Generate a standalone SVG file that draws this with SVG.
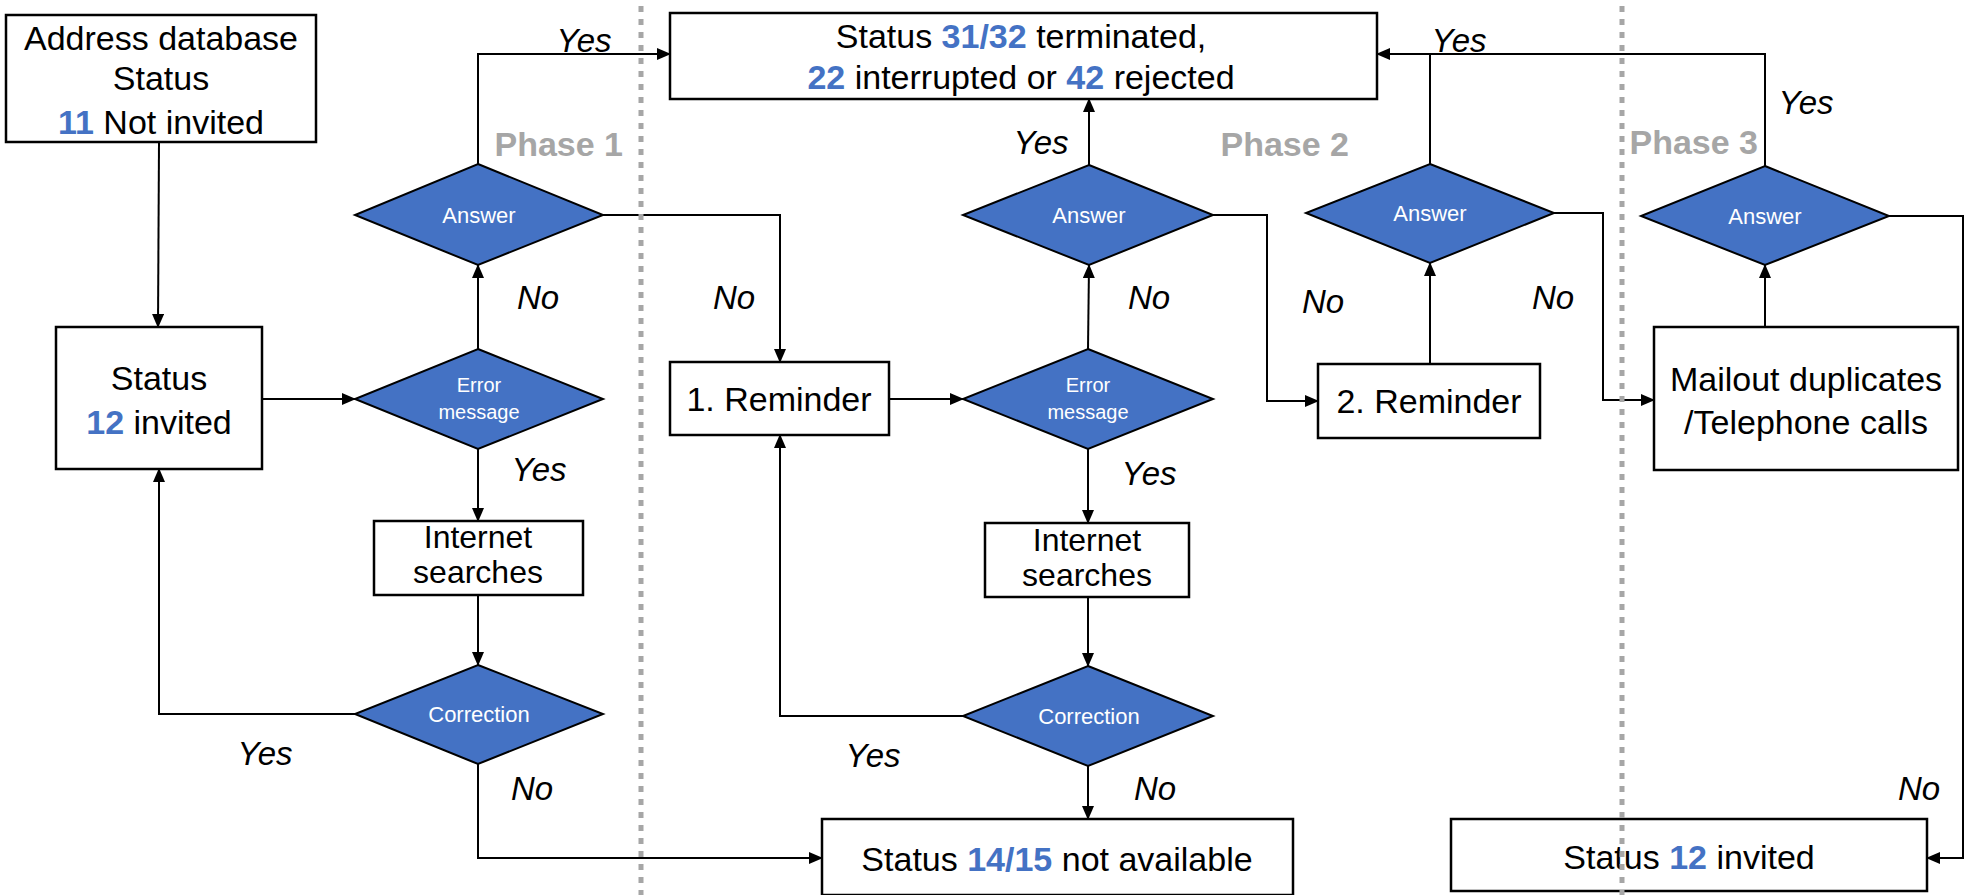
<svg xmlns="http://www.w3.org/2000/svg" width="1967" height="895" viewBox="0 0 1967 895">
<defs>
<marker id="arr" markerUnits="userSpaceOnUse" markerWidth="14" markerHeight="12" refX="13" refY="6" orient="auto">
<path d="M0,0 L14,6 L0,12 z" fill="#000"/>
</marker>
<style>
.box{fill:#fff;stroke:#000;stroke-width:2.5}
.dia{fill:#4472C4;stroke:#000;stroke-width:2}
.t{font-family:"Liberation Sans",Arial,sans-serif;font-size:34px;fill:#000;text-anchor:middle}
.ts{font-family:"Liberation Sans",Arial,sans-serif;font-size:32px;fill:#000;text-anchor:middle}
.n{font-weight:bold;fill:#4472C4}
.dt{font-family:"Liberation Sans",Arial,sans-serif;font-size:22px;fill:#fff;text-anchor:middle}
.dts{font-family:"Liberation Sans",Arial,sans-serif;font-size:20px;fill:#fff;text-anchor:middle}
.lb{font-family:"Liberation Sans",Arial,sans-serif;font-size:33px;font-style:italic;fill:#000;text-anchor:middle}
.ph{font-family:"Liberation Sans",Arial,sans-serif;font-size:34px;font-weight:bold;fill:#A6A6A6;text-anchor:end}
.c{fill:none;stroke:#000;stroke-width:2}
.sep{stroke:#A6A6A6;stroke-width:5;stroke-dasharray:6 7}
</style>
</defs>
<rect width="1967" height="895" fill="#fff"/>

<g id="connectors">
<path class="c" d="M159,142 L158,327" marker-end="url(#arr)"/>
<path class="c" d="M262,399 L355,399" marker-end="url(#arr)"/>
<path class="c" d="M478,349 L478,265" marker-end="url(#arr)"/>
<path class="c" d="M478,164 L478,54 L670,54" marker-end="url(#arr)"/>
<path class="c" d="M603,215 L780,215 L780,362" marker-end="url(#arr)"/>
<path class="c" d="M478,449 L478,521" marker-end="url(#arr)"/>
<path class="c" d="M478,595 L478,665" marker-end="url(#arr)"/>
<path class="c" d="M355,714 L159,714 L159,469" marker-end="url(#arr)"/>
<path class="c" d="M478,764 L478,858 L822,858" marker-end="url(#arr)"/>
<path class="c" d="M889,399 L963,399" marker-end="url(#arr)"/>
<path class="c" d="M1088,349 L1089,265" marker-end="url(#arr)"/>
<path class="c" d="M1089,165 L1089,99" marker-end="url(#arr)"/>
<path class="c" d="M1213,215 L1267,215 L1267,401 L1318,401" marker-end="url(#arr)"/>
<path class="c" d="M1088,449 L1088,523" marker-end="url(#arr)"/>
<path class="c" d="M1088,597 L1088,666" marker-end="url(#arr)"/>
<path class="c" d="M963,716 L780,716 L780,435" marker-end="url(#arr)"/>
<path class="c" d="M1088,766 L1088,819" marker-end="url(#arr)"/>
<path class="c" d="M1430,364 L1430,263" marker-end="url(#arr)"/>
<path class="c" d="M1430,164 L1430,54"/>
<path class="c" d="M1765,166 L1765,54 L1377,54" marker-end="url(#arr)"/>
<path class="c" d="M1554,213 L1603,213 L1603,400 L1654,400" marker-end="url(#arr)"/>
<path class="c" d="M1765,327 L1765,265" marker-end="url(#arr)"/>
<path class="c" d="M1889,216 L1963,216 L1963,858 L1927,858" marker-end="url(#arr)"/>
</g>

<g id="labels">
<text class="lb" x="584" y="52">Yes</text>
<text class="lb" x="538" y="309">No</text>
<text class="lb" x="539" y="481">Yes</text>
<text class="lb" x="265" y="765">Yes</text>
<text class="lb" x="532" y="800">No</text>
<text class="lb" x="734" y="309">No</text>
<text class="lb" x="1041" y="154">Yes</text>
<text class="lb" x="1149" y="309">No</text>
<text class="lb" x="1149" y="485">Yes</text>
<text class="lb" x="873" y="767">Yes</text>
<text class="lb" x="1155" y="800">No</text>
<text class="lb" x="1323" y="313">No</text>
<text class="lb" x="1459" y="52">Yes</text>
<text class="lb" x="1553" y="309">No</text>
<text class="lb" x="1806" y="114">Yes</text>
<text class="lb" x="1919" y="800">No</text>
<text class="ph" x="623" y="156">Phase 1</text>
<text class="ph" x="1349" y="156">Phase 2</text>
<text class="ph" x="1758" y="154">Phase 3</text>
</g>

<g id="n-address">
<rect class="box" x="6" y="15" width="310" height="127"/>
<text class="t" x="161" y="50">Address database</text>
<text class="t" x="161" y="90">Status</text>
<text class="t" x="161" y="134"><tspan class="n">11</tspan> Not invited</text>
</g>
<g id="n-invited">
<rect class="box" x="56" y="327" width="206" height="142"/>
<text class="t" x="159" y="390">Status</text>
<text class="t" x="159" y="434"><tspan class="n">12</tspan> invited</text>
</g>
<g id="n-answer1">
<polygon class="dia" points="478,164 603,215 478,265 355,215"/>
<text class="dt" x="479" y="223">Answer</text>
</g>
<g id="n-error1">
<polygon class="dia" points="478,349 603,399 478,449 355,399"/>
<text class="dts" x="479" y="392">Error</text>
<text class="dts" x="479" y="419">message</text>
</g>
<g id="n-search1">
<rect class="box" x="374" y="521" width="209" height="74"/>
<text class="ts" x="478" y="548">Internet</text>
<text class="ts" x="478" y="583">searches</text>
</g>
<g id="n-correction1">
<polygon class="dia" points="478,665 603,714 478,764 355,714"/>
<text class="dt" x="479" y="722">Correction</text>
</g>
<g id="n-terminated">
<rect class="box" x="670" y="13" width="707" height="86"/>
<text class="t" x="1021" y="48">Status <tspan class="n">31/32</tspan> terminated,</text>
<text class="t" x="1021" y="89"><tspan class="n">22</tspan> interrupted or <tspan class="n">42</tspan> rejected</text>
</g>
<g id="n-reminder1">
<rect class="box" x="670" y="362" width="219" height="73"/>
<text class="t" x="779" y="411">1. Reminder</text>
</g>
<g id="n-answer2">
<polygon class="dia" points="1089,165 1213,215 1089,265 963,215"/>
<text class="dt" x="1089" y="223">Answer</text>
</g>
<g id="n-error2">
<polygon class="dia" points="1088,349 1213,399 1088,449 963,399"/>
<text class="dts" x="1088" y="392">Error</text>
<text class="dts" x="1088" y="419">message</text>
</g>
<g id="n-search2">
<rect class="box" x="985" y="523" width="204" height="74"/>
<text class="ts" x="1087" y="551">Internet</text>
<text class="ts" x="1087" y="586">searches</text>
</g>
<g id="n-correction2">
<polygon class="dia" points="1088,666 1213,716 1088,766 963,716"/>
<text class="dt" x="1089" y="724">Correction</text>
</g>
<g id="n-notavailable">
<rect class="box" x="822" y="819" width="471" height="76"/>
<text class="t" x="1057" y="871">Status <tspan class="n">14/15</tspan> not available</text>
</g>
<g id="n-reminder2">
<rect class="box" x="1318" y="364" width="222" height="74"/>
<text class="t" x="1429" y="413">2. Reminder</text>
</g>
<g id="n-answer3">
<polygon class="dia" points="1430,164 1554,213 1430,263 1306,213"/>
<text class="dt" x="1430" y="221">Answer</text>
</g>
<g id="n-answer4">
<polygon class="dia" points="1765,166 1889,216 1765,265 1641,216"/>
<text class="dt" x="1765" y="224">Answer</text>
</g>
<g id="n-mailout">
<rect class="box" x="1654" y="327" width="304" height="143"/>
<text class="t" x="1806" y="391">Mailout duplicates</text>
<text class="t" x="1806" y="434">/Telephone calls</text>
</g>
<g id="n-invited2">
<rect class="box" x="1451" y="819" width="476" height="72"/>
<text class="t" x="1689" y="869">Status <tspan class="n">12</tspan> invited</text>
</g>

<g id="separators">
<line class="sep" x1="641" y1="6" x2="641" y2="895"/>
<line class="sep" x1="1622" y1="6" x2="1622" y2="895"/>
</g>
</svg>
